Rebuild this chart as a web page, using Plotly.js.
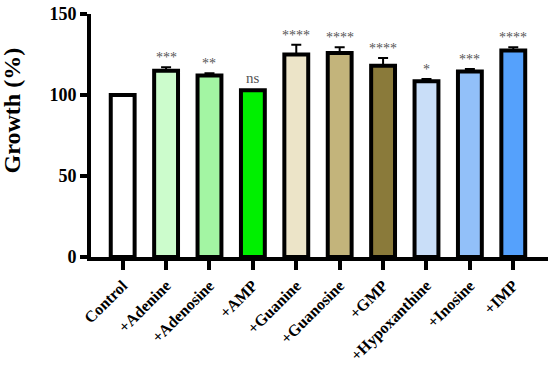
<!DOCTYPE html>
<html><head><meta charset="utf-8">
<script src="https://cdn.plot.ly/plotly-3.0.1.min.js"></script>
<style>html,body{margin:0;padding:0;background:#fff}#chart{width:550px;height:368px}</style>
</head><body><div id="chart"></div>
<script>
const categories = ["Control","+Adenine","+Adenosine","+AMP","+Guanine","+Guanosine","+GMP","+Hypoxanthine","+Inosine","+IMP"];
const growth = [100, 115, 112, 103, 125, 126, 118, 108.5, 114.5, 127.5];
const errUp = [0, 2.2, 1.5, 0, 6, 3.5, 4.8, 1.3, 1.5, 2];
const signif = ["", "***", "**", "ns", "****", "****", "****", "*", "***", "****"];
const colors = ["#ffffff","#ccfccc","#a3f5a3","#00f000","#ece4c8","#c3b47b","#8a7a3a","#c9def8","#92c0f9","#55a1fc"];
const yTitle = "Growth (%)";

const trace = {
  type: "bar",
  x: categories,
  y: growth,
  width: 0.55,
  marker: {color: colors, line: {color: "#000", width: 4}},
  error_y: {type: "data", symmetric: false, array: errUp, arrayminus: errUp.map(() => 0),
            color: "#000", thickness: 2, width: 5, visible: true},
  hoverinfo: "none"
};

const annotations = categories.map((c, i) => ({
  x: c, y: growth[i] + errUp[i], text: signif[i], showarrow: false,
  yanchor: "bottom", yshift: signif[i] === "ns" ? 2 : 0,
  font: {family: "Liberation Serif", size: signif[i] === "ns" ? 15 : 14, color: "#555"}
}));
annotations.push({
  xref: "paper", yref: "paper", x: -0.172, y: 0.605, xanchor: "center", yanchor: "middle",
  text: yTitle, textangle: -90, showarrow: false,
  font: {family: "Liberation Serif", size: 24, color: "#000", weight: 700}
});

const layout = {
  width: 550, height: 368,
  margin: {l: 91, r: 2, t: 14, b: 111},
  paper_bgcolor: "#fff", plot_bgcolor: "#fff",
  showlegend: false,
  font: {family: "Liberation Serif", color: "#000", size: 16},
  xaxis: {
    range: [-0.73, 9.8], showgrid: false, zeroline: false, automargin: false,
    showline: true, linewidth: 4, linecolor: "#000",
    ticks: "outside", ticklen: 9, tickwidth: 4, tickcolor: "#000",
    tickangle: -45, tickfont: {family: "Liberation Serif", size: 16, color: "#000", weight: 700},
    ticklabelstandoff: 0
  },
  yaxis: {
    range: [0, 150], tickvals: [0, 50, 100, 150], showgrid: false, zeroline: false, automargin: false,
    showline: true, linewidth: 4, linecolor: "#000",
    ticks: "outside", ticklen: 7, tickwidth: 4, tickcolor: "#000",
    tickfont: {family: "Liberation Serif", size: 18, color: "#000", weight: 700}
  },
  annotations: annotations
};

Plotly.newPlot("chart", [trace], layout, {displayModeBar: false, staticPlot: true});
</script></body></html>
